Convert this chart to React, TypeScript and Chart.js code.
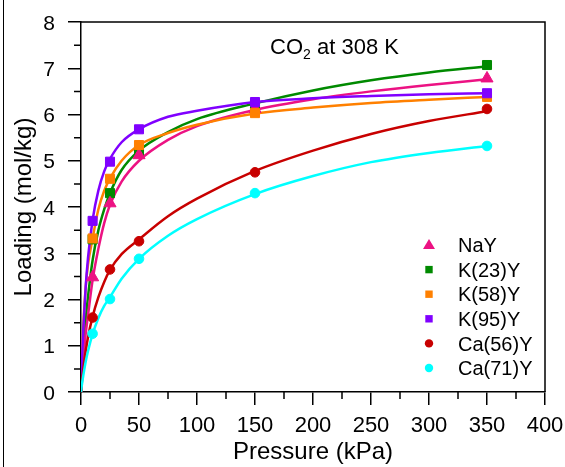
import { useEffect, useRef } from 'react';
import { Chart, registerables } from 'chart.js';
Chart.register(...registerables);

// Measured pressures (kPa)
const pointPressure = [10, 25, 50, 150, 350];
// Measured loadings (mol/kg)
const nayPoints = [2.48, 4.08, 5.12, 6.12, 6.78];
const k23Points = [3.3, 4.3, 5.2, 6.22, 7.07];
const k58Points = [3.32, 4.61, 5.34, 6.03, 6.38];
const k95Points = [3.7, 4.98, 5.68, 6.27, 6.46];
const ca56Points = [1.61, 2.65, 3.26, 4.75, 6.12];
const ca71Points = [1.26, 2.01, 2.88, 4.3, 5.32];

// Fitted curves
const curvePressure = [0, 1, 2, 4, 6, 10, 15, 20, 25, 35, 50, 75, 100, 150, 200, 250, 300, 350];
const nayCurve = [0, 0.38, 0.7, 1.25, 1.65, 2.42, 3.1, 3.65, 4.05, 4.55, 5.0, 5.45, 5.75, 6.1, 6.33, 6.5, 6.64, 6.76];
const k23Curve = [0, 0.5, 0.9, 1.55, 2.05, 2.85, 3.5, 3.95, 4.3, 4.8, 5.22, 5.62, 5.9, 6.24, 6.52, 6.74, 6.91, 7.04];
const k58Curve = [0, 0.85, 1.45, 2.25, 2.75, 3.32, 3.95, 4.35, 4.62, 5.0, 5.34, 5.6, 5.78, 6.02, 6.15, 6.25, 6.32, 6.38];
const k95Curve = [0, 0.76, 1.36, 2.26, 2.89, 3.72, 4.36, 4.77, 5.04, 5.4, 5.68, 5.95, 6.08, 6.27, 6.35, 6.4, 6.44, 6.46];
const ca56Curve = [0, 0.28, 0.5, 0.88, 1.18, 1.63, 2.05, 2.38, 2.64, 2.98, 3.3, 3.8, 4.18, 4.78, 5.22, 5.58, 5.86, 6.07];
const ca71Curve = [0, 0.2, 0.36, 0.65, 0.88, 1.25, 1.6, 1.86, 2.05, 2.45, 2.88, 3.38, 3.74, 4.28, 4.67, 4.97, 5.17, 5.32];

const seriesNames = ['NaY', 'K(23)Y', 'K(58)Y', 'K(95)Y', 'Ca(56)Y', 'Ca(71)Y'];
const seriesColors = ['#EC1283', '#008A00', '#FF8000', '#8000FF', '#C80000', '#00FFFF'];
const seriesStyles = ['triangle', 'rect', 'rect', 'rect', 'circle', 'circle'];
// stacking (higher = drawn on top)
const seriesLayer = [1, 0, 2, 3, 4, 5];

const FONT = "'Liberation Sans', Arial, sans-serif";

export default function App() {
  const ref = useRef<HTMLCanvasElement>(null);
  useEffect(() => {
    const pointsAll = [nayPoints, k23Points, k58Points, k95Points, ca56Points, ca71Points];
    const curvesAll = [nayCurve, k23Curve, k58Curve, k95Curve, ca56Curve, ca71Curve];
    const datasets: any[] = [];
    seriesNames.forEach((name, i) => {
      datasets.push({
        label: name,
        data: pointPressure.map((x, j) => ({ x, y: pointsAll[i][j] })),
        showLine: false,
        pointStyle: seriesStyles[i],
        pointRadius: seriesStyles[i] === 'triangle' ? 7 : seriesStyles[i] === 'rect' ? 6.4 : 4.8,
        backgroundColor: seriesColors[i],
        borderColor: seriesColors[i],
        borderWidth: 1,
        order: 10 - seriesLayer[i],
      });
    });
    seriesNames.forEach((name, i) => {
      datasets.push({
        label: name + ' fit',
        data: curvePressure.map((x, j) => ({ x, y: curvesAll[i][j] })),
        showLine: true,
        pointRadius: 0,
        borderColor: seriesColors[i],
        backgroundColor: seriesColors[i],
        borderWidth: 2.5,
        cubicInterpolationMode: 'monotone',
        order: 30 - seriesLayer[i],
      });
    });

    const extras = {
      id: 'extras',
      afterDraw(chart: any) {
        const { ctx, chartArea: ca, scales } = chart;
        const xs = scales.x, ys = scales.y;
        ctx.save();
        ctx.strokeStyle = '#000';
        ctx.lineWidth = 1.5;
        // frame top & right
        ctx.beginPath();
        ctx.moveTo(ca.left, ca.top);
        ctx.lineTo(ca.right, ca.top);
        ctx.lineTo(ca.right, ca.bottom);
        ctx.stroke();
        // minor ticks
        ctx.beginPath();
        for (let v = 25; v < 400; v += 50) {
          const px = xs.getPixelForValue(v);
          ctx.moveTo(px, ca.bottom);
          ctx.lineTo(px, ca.bottom + 7);
        }
        for (let v = 0.5; v < 8; v += 1) {
          const py = ys.getPixelForValue(v);
          ctx.moveTo(ca.left, py);
          ctx.lineTo(ca.left - 7, py);
        }
        ctx.stroke();

        // tick labels from the scales' ticks
        ctx.fillStyle = '#000';
        ctx.textBaseline = 'alphabetic';
        ctx.font = `22px ${FONT}`;
        ctx.textAlign = 'center';
        xs.ticks.forEach((t: any) => {
          ctx.fillText(String(t.value), xs.getPixelForValue(t.value), ca.bottom + 40);
        });
        ctx.font = `21px ${FONT}`;
        ctx.textAlign = 'right';
        ys.ticks.forEach((t: any) => {
          ctx.fillText(String(t.value), ca.left - 26, ys.getPixelForValue(t.value) + 7.5);
        });

        // annotation CO2 at 308 K
        ctx.textAlign = 'left';
        let ax = xs.getPixelForValue(163);
        const ay = ys.getPixelForValue(7.3);
        ctx.font = `22px ${FONT}`;
        ctx.fillText('CO', ax, ay);
        ax += ctx.measureText('CO').width;
        ctx.font = `14px ${FONT}`;
        ctx.fillText('2', ax, ay + 5);
        ax += ctx.measureText('2').width;
        ctx.font = `22px ${FONT}`;
        ctx.fillText(' at 308 K', ax, ay);

        // legend
        const mx = ca.right - 116;
        const tx = ca.right - 87;
        let ly = ca.top + 223;
        ctx.textBaseline = 'alphabetic';
        seriesNames.forEach((name, i) => {
          ctx.fillStyle = seriesColors[i];
          ctx.beginPath();
          if (seriesStyles[i] === 'triangle') {
            ctx.moveTo(mx, ly - 6);
            ctx.lineTo(mx + 6, ly + 4);
            ctx.lineTo(mx - 6, ly + 4);
            ctx.closePath();
          } else if (seriesStyles[i] === 'rect') {
            ctx.rect(mx - 3.7, ly - 3.7, 7.4, 7.4);
          } else {
            ctx.arc(mx, ly, 4.2, 0, Math.PI * 2);
          }
          ctx.fill();
          ctx.fillStyle = '#000';
          ctx.font = `20px ${FONT}`;
          ctx.fillText(name, tx, ly + 7.2);
          ly += 24.6;
        });
        ctx.restore();
      },
    };

    const chart = new Chart(ref.current!, {
      type: 'scatter',
      data: { datasets },
      options: {
        responsive: false,
        animation: false,
        devicePixelRatio: 1,
        layout: { padding: { left: 0, right: 20, top: 22, bottom: 0 } },
        plugins: { legend: { display: false }, tooltip: { enabled: false } },
        scales: {
          x: {
            type: 'linear',
            min: 0,
            max: 400,
            ticks: { stepSize: 50, display: false },
            grid: { drawOnChartArea: false, drawTicks: true, tickLength: 13, color: '#000', lineWidth: 1.5 },
            border: { display: true, color: '#000', width: 1.5 },
            title: { display: true, text: 'Pressure (kPa)', color: '#000', font: { family: FONT, size: 24 }, padding: { top: 0, bottom: 0 } },
            afterFit: (s: any) => { s.height = 75; },
          },
          y: {
            type: 'linear',
            min: 0,
            max: 8,
            ticks: { stepSize: 1, display: false },
            grid: { drawOnChartArea: false, drawTicks: true, tickLength: 13, color: '#000', lineWidth: 1.5 },
            border: { display: true, color: '#000', width: 1.5 },
            title: { display: true, text: 'Loading (mol/kg)', color: '#000', font: { family: FONT, size: 24 }, padding: { top: 10, bottom: 0 } },
            afterFit: (s: any) => { s.width = 81; },
          },
        },
      },
      plugins: [extras],
    });
    return () => chart.destroy();
  }, []);
  return (
    <div style={{ position: 'fixed', left: 0, top: 0, width: 565, height: 467, background: '#fff' }}>
      <canvas ref={ref} width={565} height={467} style={{ display: 'block', width: 565, height: 467 }} />
      <div style={{ position: 'absolute', left: 3, top: 0, width: 1, height: 467, background: '#000' }} />
    </div>
  );
}
